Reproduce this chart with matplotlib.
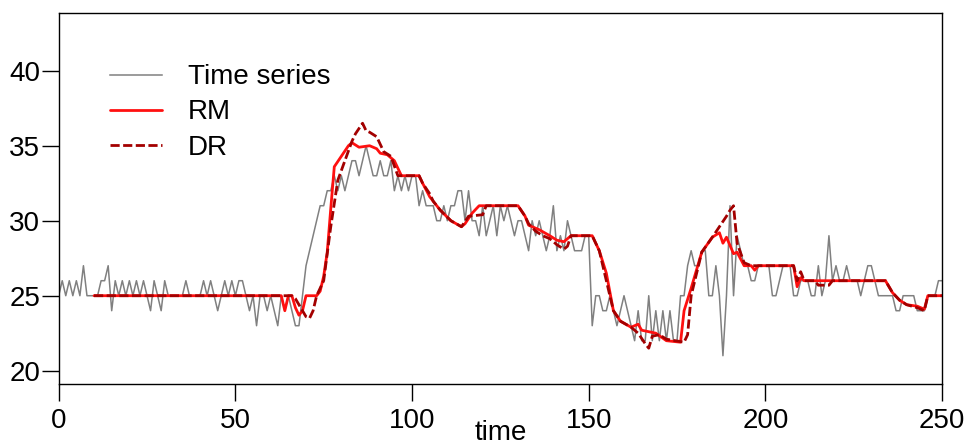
import numpy as np
import matplotlib
matplotlib.use("Agg")
import matplotlib.pyplot as plt

plt.rcParams["font.family"] = ["Liberation Sans", "DejaVu Sans"]
plt.rcParams["lines.scale_dashes"] = False

# Observed series, one value per time step t = 0..250
series_parts = [
    [25, 26, 25, 26, 25, 26, 25, 27, 25, 25, 25],
    [25, 26, 26, 27, 24, 26, 25, 26, 25, 26, 25, 26, 25, 26],
    [25, 24, 26, 25, 24, 26, 25, 25, 25, 25, 25],
    [26, 25, 25, 25, 25, 26, 25, 26, 25, 24, 25, 26, 25, 26],
    [25, 26, 26, 25, 24, 25, 23, 25, 25, 24, 25, 24, 23, 25, 24, 25, 24, 23, 23],
    [25, 27, 28, 29, 30, 31, 31, 32, 32, 33, 32, 33, 32, 33, 34, 34, 33, 34, 35, 34,
     33, 33, 34, 33, 33, 34, 32, 33, 32, 33, 32, 33],
    [33, 31, 32, 31, 31, 31, 30, 30, 31, 30, 31, 31, 32, 32, 30, 32, 30, 30, 29, 31,
     29, 30, 31, 29, 31, 30, 31, 30, 29, 30, 30, 29, 28, 30, 29, 30, 29, 28, 29, 31,
     28, 29, 28, 30, 29, 28, 28, 28, 29, 29],
    [23, 25, 25, 24, 24, 25, 24, 23, 24, 25, 24, 23, 22, 24, 22, 22, 25, 22, 24, 22,
     24, 22, 24, 22, 22, 25, 25, 27, 28, 27, 27, 28, 28, 25, 25, 27, 25, 21, 25, 31,
     25, 29, 28, 27],
    [27, 26, 26, 27, 27, 27, 27, 25, 25, 26, 27, 27, 27, 25, 25, 26, 26, 26, 25, 25,
     27, 25, 26, 29, 26, 27, 26, 26, 27, 26, 26, 26, 25, 26, 27, 27, 26, 25, 25, 25,
     25, 25, 24, 24, 25, 25, 25, 25, 24, 24, 24, 25, 25, 25, 26, 26],
]
series = np.concatenate(series_parts)
time = np.arange(len(series))

# RM estimate (vertices of the polyline)
rm_t = [10, 63, 64, 65, 66, 67, 68, 69, 70, 73, 74, 75, 76, 77, 78, 80, 82, 83, 85, 88,
        90, 91, 93, 95, 97, 102, 103, 105, 108, 111, 114, 115, 117, 119, 130, 132, 133,
        136, 139, 141, 143, 145, 151, 152, 153, 155, 157, 159, 162, 164, 165, 167, 169,
        172, 176, 177, 179, 182, 185, 187, 188, 189, 191, 192, 194, 196, 197, 198, 208,
        209, 210, 211, 234, 236, 238, 240, 243, 245, 246, 250]
rm_v = [25, 25, 24, 25, 25, 24.2, 23.7, 24, 25, 25, 25.3, 26.3, 27.9, 30.8, 33.6, 34.3,
        35.0, 35.2, 34.9, 35.0, 34.8, 34.5, 34.4, 34.0, 33.0, 33.0, 32.5, 31.6, 30.7,
        30.0, 29.6, 29.8, 30.5, 31.0, 31.0, 30.3, 29.7, 29.4, 29.0, 28.7, 28.6, 29.0,
        29.0, 28.5, 28.0, 26.5, 24.0, 23.3, 22.9, 23.1, 22.7, 22.6, 22.5, 22.0, 21.9,
        24.0, 25.5, 27.9, 28.9, 29.2, 28.5, 28.9, 27.8, 27.9, 27.0, 27.0, 26.7, 27.0,
        27.0, 25.6, 26.2, 26.0, 26.0, 25.2, 24.7, 24.4, 24.3, 24.1, 25.0, 25.0]

# DR estimate (vertices of the polyline)
dr_t = [10, 66, 67, 69, 70, 71, 72, 73, 75, 77, 79, 81, 83, 84, 86, 87, 88, 90, 92, 94,
        96, 102, 103, 105, 106, 108, 111, 114, 116, 120, 121, 130, 132, 133, 135, 137,
        139, 141, 143, 144, 145, 151, 152, 153, 155, 157, 159, 162, 164, 166, 167, 168,
        170, 172, 177, 178, 179, 182, 185, 187, 189, 190, 191, 192, 194, 196, 208, 209,
        210, 211, 214, 215, 218, 219, 234, 236, 238, 240, 243, 245, 246, 250]
dr_v = [25, 25, 24.8, 24.0, 23.6, 23.5, 24.0, 25.0, 26.0, 29.6, 32.7, 34.0, 35.3, 35.8,
        36.5, 36.0, 35.9, 35.6, 34.6, 34.3, 33.0, 33.0, 32.5, 31.8, 31.3, 30.7, 30.0,
        29.6, 30.3, 30.4, 31.0, 31.0, 30.3, 29.8, 29.3, 29.0, 28.8, 28.4, 28.1, 28.3,
        29.0, 29.0, 28.5, 28.0, 26.0, 24.0, 23.3, 22.9, 22.5, 21.8, 21.5, 22.3, 22.4,
        22.1, 21.9, 22.4, 25.0, 27.9, 28.9, 29.6, 30.3, 30.7, 31.0, 28.5, 27.2, 27.0,
        27.0, 26.0, 26.6, 26.0, 26.0, 25.7, 25.7, 26.0, 26.0, 25.2, 24.7, 24.4, 24.2,
        24.0, 25.0, 25.0]

x_ticks = [0, 50, 100, 150, 200, 250]
y_ticks = [20, 25, 30, 35, 40]

W, H = 966, 447
fig = plt.figure(figsize=(W / 100, H / 100), dpi=100)
ax = fig.add_axes([58.7 / W, 1 - 384.3 / H, 883.3 / W, 371.3 / H])

ax.plot(time, series, color="#808080", lw=1.1, label="Time series", zorder=2)
ax.plot(rm_t, rm_v, color="#FF1010", lw=2.0, label="RM", zorder=3,
        solid_joinstyle="round", solid_capstyle="round")
ax.plot(dr_t, dr_v, color="#A30000", lw=2.0, label="DR", zorder=4,
        linestyle=(0, (6.6, 2.5)), dash_joinstyle="round")

ax.set_xlim(0, 250)
ax.set_ylim(19.093, 43.85)
ax.set_xticks(x_ticks)
ax.set_yticks(y_ticks)
fs = 20
ax.tick_params(axis="both", direction="out", length=12.2, width=1.0,
               labelsize=fs, colors="black")
ax.tick_params(axis="y", pad=1)
ax.tick_params(axis="x", pad=5)
for s in ax.spines.values():
    s.set_linewidth(1.0)
    s.set_color("black")

ax.set_xlabel("time", fontsize=fs, labelpad=-10)

ax.legend(loc="upper left", bbox_to_anchor=(0.058, 0.862), frameon=False,
          fontsize=fs, handlelength=1.87, handletextpad=0.93,
          labelspacing=0.33, borderpad=0, borderaxespad=0)

fig.savefig("out.png", dpi=100)
